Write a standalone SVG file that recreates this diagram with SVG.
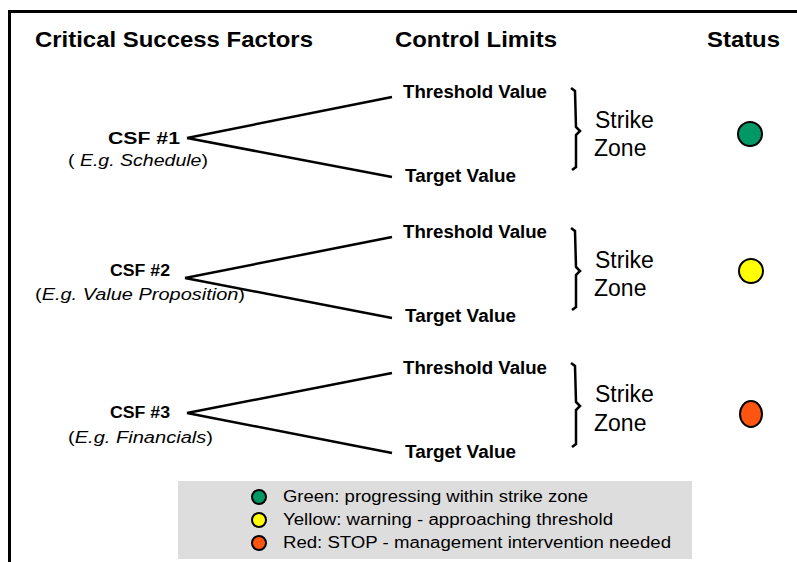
<svg xmlns="http://www.w3.org/2000/svg" width="797" height="562" viewBox="0 0 797 562">
<style>
.h{font-family:"Liberation Sans",Arial,sans-serif;font-weight:bold;font-size:22px;fill:#000}
.cl{font-family:"Liberation Sans",Arial,sans-serif;font-weight:bold;font-size:18px;fill:#000}
.csf{font-family:"Liberation Sans",Arial,sans-serif;font-size:16px;fill:#000}
.eg{font-family:"Liberation Sans",Arial,sans-serif;font-size:16px;fill:#000}
.sz{font-family:"Liberation Sans",Arial,sans-serif;font-size:23px;fill:#000}
.lg{font-family:"Liberation Sans",Arial,sans-serif;font-size:16px;fill:#000}
.ln{stroke:#000;stroke-width:2.5;fill:none}
.br{stroke:#000;stroke-width:2.5;fill:none}
.dot{stroke:#000;stroke-width:2}
</style>
<rect width="797" height="562" fill="#fff"/>
<g id="frame">
<rect x="8" y="10" width="789" height="3" fill="#000"/>
<rect x="8" y="10" width="3" height="552" fill="#000"/>
</g>
<g id="headers">
<text class="h" x="35" y="47" textLength="278" lengthAdjust="spacingAndGlyphs">Critical Success Factors</text>
<text class="h" x="395" y="47" textLength="162" lengthAdjust="spacingAndGlyphs">Control Limits</text>
<text class="h" x="707" y="47" textLength="73" lengthAdjust="spacingAndGlyphs">Status</text>
</g>
<g id="connectors">
<path class="ln" d="M187 138 L392 97 M187 138 L392 177"/>
<path class="ln" d="M185 278 L392 237 M185 278 L392 318"/>
<path class="ln" d="M187 413 L392 373 M187 413 L392 453"/>
</g>
<g id="csf1">
<text class="csf" x="144" y="144" text-anchor="middle" font-weight="bold" textLength="72" lengthAdjust="spacingAndGlyphs">CSF #1</text>
<text class="eg" x="68" y="166" textLength="140" lengthAdjust="spacingAndGlyphs">( <tspan font-style="italic">E.g. Schedule</tspan>)</text>
</g>
<g id="csf2">
<text class="csf" x="140" y="276" text-anchor="middle" font-weight="bold" textLength="60" lengthAdjust="spacingAndGlyphs">CSF #2</text>
<text class="eg" x="35" y="300" textLength="210" lengthAdjust="spacingAndGlyphs">(<tspan font-style="italic">E.g. Value Proposition</tspan>)</text>
</g>
<g id="csf3">
<text class="csf" x="140" y="418" text-anchor="middle" font-weight="bold" textLength="60" lengthAdjust="spacingAndGlyphs">CSF #3</text>
<text class="eg" x="68" y="443" textLength="145" lengthAdjust="spacingAndGlyphs">(<tspan font-style="italic">E.g. Financials</tspan>)</text>
</g>
<g id="limits1">
<text class="cl" x="403" y="98" textLength="144" lengthAdjust="spacingAndGlyphs">Threshold Value</text>
<text class="cl" x="405" y="182" textLength="111" lengthAdjust="spacingAndGlyphs">Target Value</text>
</g>
<g id="limits2">
<text class="cl" x="403" y="238" textLength="144" lengthAdjust="spacingAndGlyphs">Threshold Value</text>
<text class="cl" x="405" y="322" textLength="111" lengthAdjust="spacingAndGlyphs">Target Value</text>
</g>
<g id="limits3">
<text class="cl" x="403" y="374" textLength="144" lengthAdjust="spacingAndGlyphs">Threshold Value</text>
<text class="cl" x="405" y="458" textLength="111" lengthAdjust="spacingAndGlyphs">Target Value</text>
</g>
<g id="zone1">
<path class="br" d="M571 88 L575 91 L576 127 L580 131 L576 135 L576 167 L572 170"/>
<text class="sz" x="595" y="128">Strike</text>
<text class="sz" x="594" y="156">Zone</text>
</g>
<g id="zone2">
<path class="br" d="M571 228 L575 231 L576 267 L580 271 L576 275 L576 307 L572 310"/>
<text class="sz" x="595" y="268">Strike</text>
<text class="sz" x="594" y="296">Zone</text>
</g>
<g id="zone3">
<path class="br" d="M571 363 L575 366 L576 402 L580 406 L576 410 L576 444 L572 447"/>
<text class="sz" x="595" y="402">Strike</text>
<text class="sz" x="594" y="431">Zone</text>
</g>
<g id="status1"><circle class="dot" cx="750" cy="134" r="12" fill="#009966"/></g>
<g id="status2"><circle class="dot" cx="751" cy="271" r="12" fill="#FFFF00"/></g>
<g id="status3"><ellipse class="dot" cx="751" cy="414" rx="11" ry="13" fill="#FF5511"/></g>
<g id="legend">
<rect x="178" y="481" width="514" height="78" fill="#DDDDDD"/>
<circle class="dot" cx="259" cy="497" r="7" fill="#009966"/>
<circle class="dot" cx="259" cy="520" r="7" fill="#FFFF00"/>
<circle class="dot" cx="259" cy="543" r="7" fill="#FF5511"/>
<text class="lg" x="283" y="502" textLength="305" lengthAdjust="spacingAndGlyphs">Green: progressing within strike zone</text>
<text class="lg" x="283" y="525" textLength="330" lengthAdjust="spacingAndGlyphs">Yellow: warning - approaching threshold</text>
<text class="lg" x="283" y="548" textLength="388" lengthAdjust="spacingAndGlyphs">Red: STOP - management intervention needed</text>
</g>
</svg>
